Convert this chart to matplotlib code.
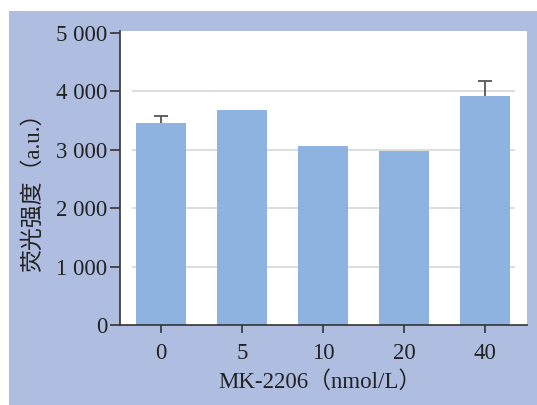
import matplotlib
matplotlib.use("Agg")
import matplotlib.pyplot as plt
from matplotlib.patches import Rectangle
from matplotlib.ticker import FuncFormatter

plt.rcParams['font.family'] = ['Liberation Serif', 'Noto Sans CJK SC']

doses = ['0', '5', '10', '20', '40']
intensity = [3455, 3680, 3065, 2980, 3920]
err_up = [130, 0, 0, 0, 250]
grid_vals = [1000, 2000, 3000, 4000]

bar_color = '#8fb3e0'
bg_color = '#aebde0'
dark = '#333333'

fig = plt.figure(figsize=(5.37, 4.05), dpi=100)
fig.patches.append(Rectangle((9 / 537, 0), 1, (405 - 11) / 405,
                             transform=fig.transFigure, facecolor=bg_color,
                             edgecolor='none', zorder=-10))

ax = fig.add_axes([120 / 537, 1 - 325 / 405, (527 - 120) / 537, (325 - 31) / 405])
ax.set_facecolor('white')

x = list(range(len(doses)))
ax.hlines(grid_vals, -0.36, 4.37, color='#dddddd', lw=1.4, zorder=0)
ax.bar(x, intensity, width=0.62, color=bar_color, zorder=2)

# upper error bars only, where there is one
for xi, v, e in zip(x, intensity, err_up):
    if e > 0:
        ax.vlines(xi, v, v + e, color='#555555', lw=1.3, zorder=3)
        ax.hlines(v + e, xi - 0.085, xi + 0.085, color='#555555', lw=1.3, zorder=3)

ax.set_xlim(-0.506, 4.52)
ax.set_ylim(0, 5034)
ax.set_yticks([0, 1000, 2000, 3000, 4000, 5000])
ax.yaxis.set_major_formatter(FuncFormatter(lambda v, p: f'{int(v):,}'.replace(',', ' ')))
ax.set_xticks(x)
ax.set_xticklabels(doses)

for s in ['top', 'right']:
    ax.spines[s].set_visible(False)
for s in ['left', 'bottom']:
    ax.spines[s].set_color(dark)
    ax.spines[s].set_linewidth(1.2)
ax.tick_params(axis='y', length=7, width=1.2, color=dark, labelsize=16.5, pad=2, labelcolor='#222222')
ax.tick_params(axis='x', length=6, width=1.2, color=dark, labelsize=16.5, pad=7, labelcolor='#222222')

fig.text(320 / 537, 1 - 382 / 405, 'MK-2206（nmol/L）', ha='center', va='center',
         fontsize=16.5, color='#222222')
fig.text(33 / 537, 1 - 187 / 405, '荧光强度（a.u.）', ha='center', va='center',
         rotation=90, fontsize=16.5, color='#222222')

fig.savefig('out.png', dpi=100)
